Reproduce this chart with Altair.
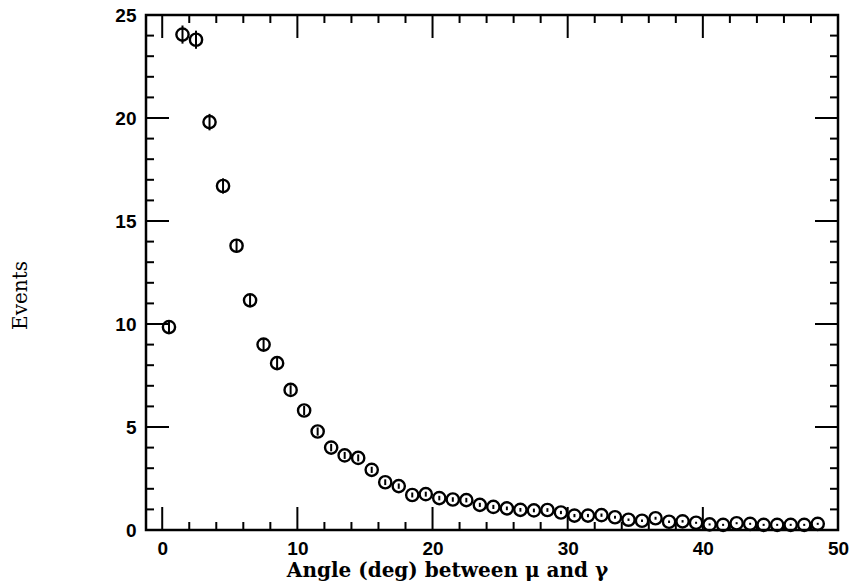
import altair as alt
import pandas as pd

# Angular distribution: 1-degree bins, bin centres (deg)
angle = [0.5, 1.5, 2.5, 3.5, 4.5, 5.5, 6.5, 7.5, 8.5, 9.5,
         10.5, 11.5, 12.5, 13.5, 14.5, 15.5, 16.5, 17.5, 18.5, 19.5,
         20.5, 21.5, 22.5, 23.5, 24.5, 25.5, 26.5, 27.5, 28.5, 29.5,
         30.5, 31.5, 32.5, 33.5, 34.5, 35.5, 36.5, 37.5, 38.5, 39.5,
         40.5, 41.5, 42.5, 43.5, 44.5, 45.5, 46.5, 47.5, 48.5]

# Events per bin
events = [9.85, 24.05, 23.8, 19.8, 16.7, 13.8, 11.15, 9.0, 8.1, 6.8,
          5.8, 4.78, 4.0, 3.62, 3.5, 2.92, 2.32, 2.13, 1.7, 1.74,
          1.55, 1.48, 1.45, 1.22, 1.12, 1.05, 0.98, 0.95, 0.97, 0.85,
          0.7, 0.7, 0.72, 0.62, 0.5, 0.45, 0.57, 0.4, 0.42, 0.35,
          0.27, 0.25, 0.33, 0.3, 0.25, 0.25, 0.25, 0.25, 0.3]

# Statistical uncertainty per bin
errors = [0.28, 0.44, 0.44, 0.40, 0.37, 0.33, 0.30, 0.27, 0.26, 0.23,
          0.22, 0.20, 0.18, 0.17, 0.17, 0.15, 0.14, 0.13, 0.12, 0.12,
          0.11, 0.11, 0.11, 0.10, 0.10, 0.09, 0.09, 0.09, 0.09, 0.08,
          0.08, 0.08, 0.08, 0.07, 0.06, 0.06, 0.07, 0.06, 0.06, 0.05,
          0.05, 0.05, 0.05, 0.05, 0.05, 0.05, 0.05, 0.05, 0.05]

x_major = [0, 10, 20, 30, 40, 50]
x_minor = [2, 4, 6, 8, 12, 14, 16, 18, 22, 24, 26, 28,
           32, 34, 36, 38, 42, 44, 46, 48]
y_major = [0, 5, 10, 15, 20, 25]
y_minor = [1, 2, 3, 4, 6, 7, 8, 9, 11, 12, 13, 14,
           16, 17, 18, 19, 21, 22, 23, 24]

W, H = 692, 515
MAJOR, MINOR = 23, 8

df = pd.DataFrame({"angle": angle, "events": events, "err": errors})
df["lo"] = df["events"] - df["err"]
df["hi"] = df["events"] + df["err"]

xs = alt.Scale(domain=[-1.2, 50], nice=False, zero=False)
ys = alt.Scale(domain=[0, 25], nice=False, zero=False)

label_font = "Liberation Sans"
title_font = "DejaVu Serif, Liberation Serif, serif"

x_axis = alt.Axis(values=x_major, ticks=False, tickSize=0, domain=False, grid=False,
                  labelFont=label_font, labelFontSize=19, labelFontWeight="bold",
                  labelColor="black", labelPadding=9, labelFlush=False,
                  title="Angle (deg) between μ and γ", titleFont=title_font,
                  titleFontSize=20, titleFontWeight="bold", titleColor="black",
                  titleX=301, titleY=40, titleAlign="center", titleBaseline="middle")
y_axis = alt.Axis(values=y_major, ticks=False, tickSize=0, domain=False, grid=False,
                  labelFont=label_font, labelFontSize=19, labelFontWeight="bold",
                  labelColor="black", labelPadding=10, labelFlush=False,
                  title="Events", titleFont=title_font, titleFontSize=20,
                  titleFontWeight="normal", titleColor="black", titleAngle=270,
                  titleX=-126, titleY=280, titleAlign="center", titleBaseline="middle")

points = alt.Chart(df).mark_point(
    shape="circle", size=150, filled=False, color="black", strokeWidth=2.4, opacity=1
).encode(
    x=alt.X("angle:Q", scale=xs, axis=x_axis),
    y=alt.Y("events:Q", scale=ys, axis=y_axis),
)

bars = alt.Chart(df).mark_rule(color="black", strokeWidth=2).encode(
    x=alt.X("angle:Q", scale=xs),
    y=alt.Y("lo:Q", scale=ys),
    y2="hi:Q",
)


def xticks(vals, y_from, y_to):
    return alt.Chart(pd.DataFrame({"v": vals})).mark_rule(
        color="black", strokeWidth=2
    ).encode(x=alt.X("v:Q", scale=xs),
             y=alt.value(y_from), y2=alt.value(y_to))


def yticks(vals, x_from, x_to):
    return alt.Chart(pd.DataFrame({"v": vals})).mark_rule(
        color="black", strokeWidth=2
    ).encode(y=alt.Y("v:Q", scale=ys),
             x=alt.value(x_from), x2=alt.value(x_to))


ticks = [
    xticks(x_major, H, H - MAJOR), xticks(x_minor, H, H - MINOR),
    xticks(x_major, 0, MAJOR), xticks(x_minor, 0, MINOR),
    yticks(y_major, 0, MAJOR), yticks(y_minor, 0, MINOR),
    yticks(y_major, W, W - MAJOR), yticks(y_minor, W, W - MINOR),
]

chart = alt.layer(points, bars, *ticks).properties(
    width=W, height=H,
    autosize=alt.AutoSizeParams(type="none"),
    padding={"left": 146, "top": 15, "right": 13, "bottom": 57},
    background="white",
).configure_view(stroke="black", strokeWidth=2.5)

chart.save("out.html", embed_options={"renderer": "svg", "actions": False})
